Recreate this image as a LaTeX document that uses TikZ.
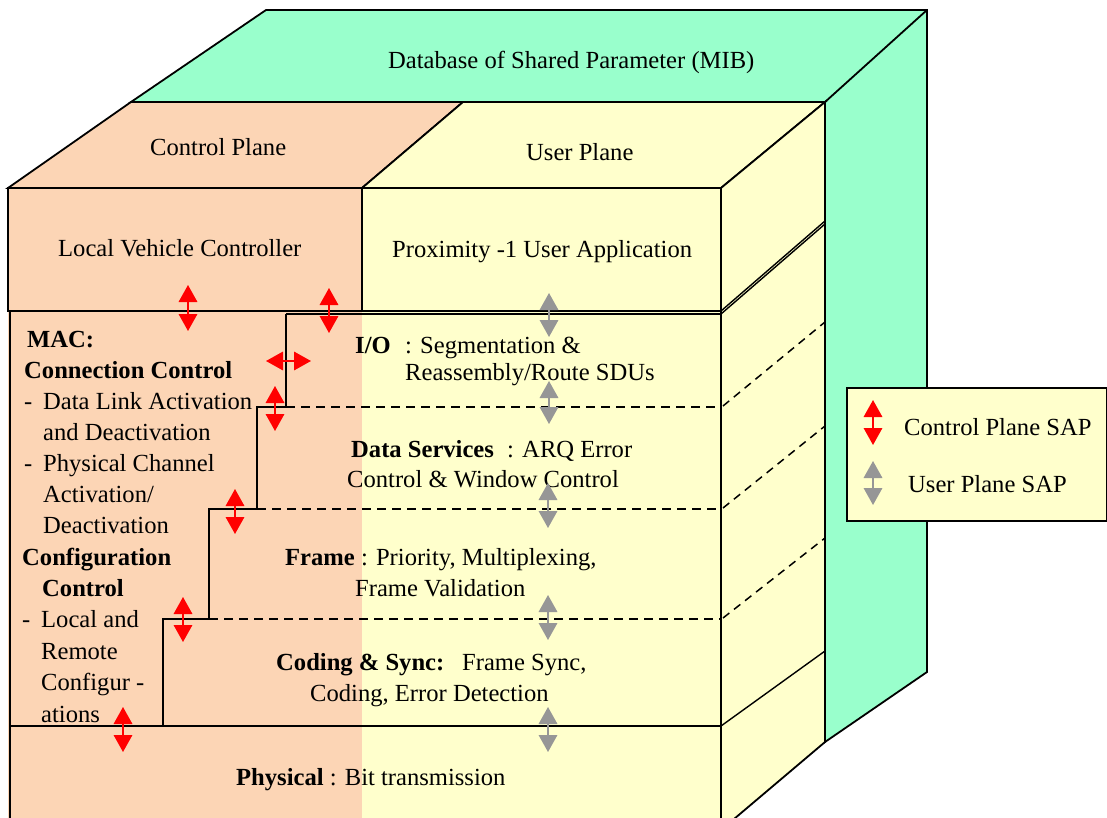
\documentclass[tikz,border=0pt]{standalone}
\usepackage{fontspec}
\setmainfont{Liberation Serif}
\usetikzlibrary{arrows.meta}
\definecolor{cpfill}{RGB}{252,213,181}
\definecolor{upfill}{RGB}{255,255,204}
\definecolor{mibfill}{RGB}{153,255,204}
\definecolor{sapgray}{RGB}{150,150,150}
\tikzset{
  edge/.style={line width=1.8pt, line join=miter},
  thinedge/.style={line width=1.4pt},
  txt/.style={inner sep=0pt, anchor=base west, font=\fontsize{24.6}{29}\selectfont},
  dashline/.style={line width=2.5pt, dash pattern=on 9pt off 6pt},
  sidedash/.style={line width=1.5pt, dash pattern=on 8pt off 6pt},
  csap/.style={draw=red, fill=red, line width=1.8pt, {Triangle[width=18.5pt,length=17pt]}-{Triangle[width=18.5pt,length=17pt]}},
  usap/.style={draw=sapgray, fill=sapgray, line width=1.8pt, {Triangle[width=18.5pt,length=17pt]}-{Triangle[width=18.5pt,length=17pt]}}
}
\begin{document}
\begin{tikzpicture}[x=1pt,y=-1pt]
\clip (0,0) rectangle (1107,818);
\fill[white] (0,0) rectangle (1107,818);
% MIB box (green)
\filldraw[fill=mibfill, edge] (131,102) -- (266,10) -- (927,10) -- (927,672) -- (825,742) -- (825,102) -- cycle;
\draw[edge] (825,102) -- (927,10);
% top faces
\filldraw[fill=cpfill, edge] (8,188) -- (131,102) -- (463,102) -- (362,188) -- cycle;
\filldraw[fill=upfill, edge] (362,188) -- (463,102) -- (825,102) -- (721,188) -- cycle;
% right face
\filldraw[fill=upfill, edge] (721,188) -- (825,102) -- (825,742) -- (721,830) -- cycle;
% front fills
\fill[cpfill] (8,188) rectangle (362,830);
\fill[upfill] (362,188) rectangle (721,830);
% boxes
\draw[edge] (8,188) rectangle (362,311);
\draw[edge] (362,188) rectangle (721,311);
\draw[thinedge] (286,314) -- (721,314);
% MAC box and staircase
\draw[edge] (10,311) -- (10,726);
\draw[edge] (286,314) -- (286,407) -- (257,407) -- (257,509) -- (209,509) -- (209,619) -- (163,619) -- (163,726);
\draw[dashline] (286,407) -- (721,407);
\draw[dashline] (257,509) -- (721,509);
\draw[dashline] (209,619) -- (721,619);
\draw[edge] (10,726) -- (721,726);
\draw[edge] (10,726) -- (10,830);
\draw[edge] (721,188) -- (721,830);
% right face lines
\draw[thinedge] (721,311) -- (825,221);
\draw[thinedge] (721,314) -- (825,224);
\draw[sidedash] (723,406) -- (825,322);
\draw[sidedash] (723,508) -- (825,426);
\draw[sidedash] (723,618) -- (825,538);
\draw[thinedge] (721,726) -- (825,651);
\draw[edge] (825,102) -- (825,742);
% texts
\node[txt] (mib) at (388,69) {Database of Shared Parameter (MIB)};
\node[txt] (cp) at (150,156) {Control Plane};
\node[txt] (up) at (526,161) {User Plane};
\node[txt] (lvc) at (58,256) {Local Vehicle Controller};
\node[txt] (pua) at (392,258) {Proximity -1 User Application};
\node[txt] (m1) at (27,347) {\textbf{MAC:}};
\node[txt] (m2) at (24,378) {\textbf{Connection Control}};
\node[txt] (m3d) at (24,409) {-};
\node[txt] (m3) at (43,409) {Data Link Activation};
\node[txt] (m4) at (43,440) {and Deactivation};
\node[txt] (m5d) at (24,471) {-};
\node[txt] (m5) at (43,471) {Physical Channel};
\node[txt] (m6) at (43,502) {Activation/};
\node[txt] (m7) at (43,533) {Deactivation};
\node[txt] (m8) at (22,565) {\textbf{Configuration}};
\node[txt] (m9) at (42,596) {\textbf{Control}};
\node[txt] (m10d) at (22,627) {-};
\node[txt] (m10) at (41,627) {Local and};
\node[txt] (m11) at (41,659) {Remote};
\node[txt] (m12) at (41,690) {Configur -};
\node[txt] (m13) at (41,722) {ations};
\node[txt] (io) at (355,353) {\textbf{I/O}};
\node[txt] (io1) at (405,353) {: Segmentation \&};
\node[txt] (io2) at (405,380) {Reassembly/Route SDUs};
\node[txt] (ds) at (351,457) {\textbf{Data Services}};
\node[txt] (ds1) at (507,457) {: ARQ Error};
\node[txt] (ds2) at (347,487) {Control \& Window Control};
\node[txt] (fr) at (285,565) {\textbf{Frame} : Priority, Multiplexing,};
\node[txt] (fr2) at (355,596) {Frame Validation};
\node[txt] (cs) at (276,670) {\textbf{Coding \& Sync:}};
\node[txt] (cs1) at (462,670) {Frame Sync,};
\node[txt] (cs2) at (310,701) {Coding, Error Detection};
\node[txt] (ph) at (236,785) {\textbf{Physical} : Bit transmission};
% SAP arrows
\coordinate (c1a) at (188,285); \coordinate (c1b) at (188,331);
\coordinate (c2a) at (329,288); \coordinate (c2b) at (329,333);
\coordinate (c3a) at (266,361); \coordinate (c3b) at (311,361);
\coordinate (c4a) at (275,386); \coordinate (c4b) at (275,431);
\coordinate (c5a) at (235,489); \coordinate (c5b) at (235,534);
\coordinate (c6a) at (183,597); \coordinate (c6b) at (183,642);
\coordinate (c7a) at (123,707); \coordinate (c7b) at (123,752);
\coordinate (u1a) at (549,293); \coordinate (u1b) at (549,337);
\coordinate (u2a) at (549,381); \coordinate (u2b) at (549,424);
\coordinate (u3a) at (548,483); \coordinate (u3b) at (548,528);
\coordinate (u4a) at (548,595); \coordinate (u4b) at (548,640);
\coordinate (u5a) at (548,707); \coordinate (u5b) at (548,752);
\foreach \i in {1,...,7} {\draw[csap] (c\i a) -- (c\i b);}
\foreach \i in {1,...,5} {\draw[usap] (u\i a) -- (u\i b);}
% legend
\node[draw, line width=2pt, fill=upfill, minimum width=260pt, minimum height=133pt, inner sep=0pt, anchor=north west] (legend) at (846,387) {};
\coordinate (lca) at (873,400); \coordinate (lcb) at (873,445);
\coordinate (lua) at (873,461); \coordinate (lub) at (873,505);
\draw[csap] (lca) -- (lcb);
\draw[usap] (lua) -- (lub);
\node[txt] (lct) at (904,435) {Control Plane SAP};
\node[txt] (lut) at (908,492) {User Plane SAP};
\end{tikzpicture}
\end{document}
